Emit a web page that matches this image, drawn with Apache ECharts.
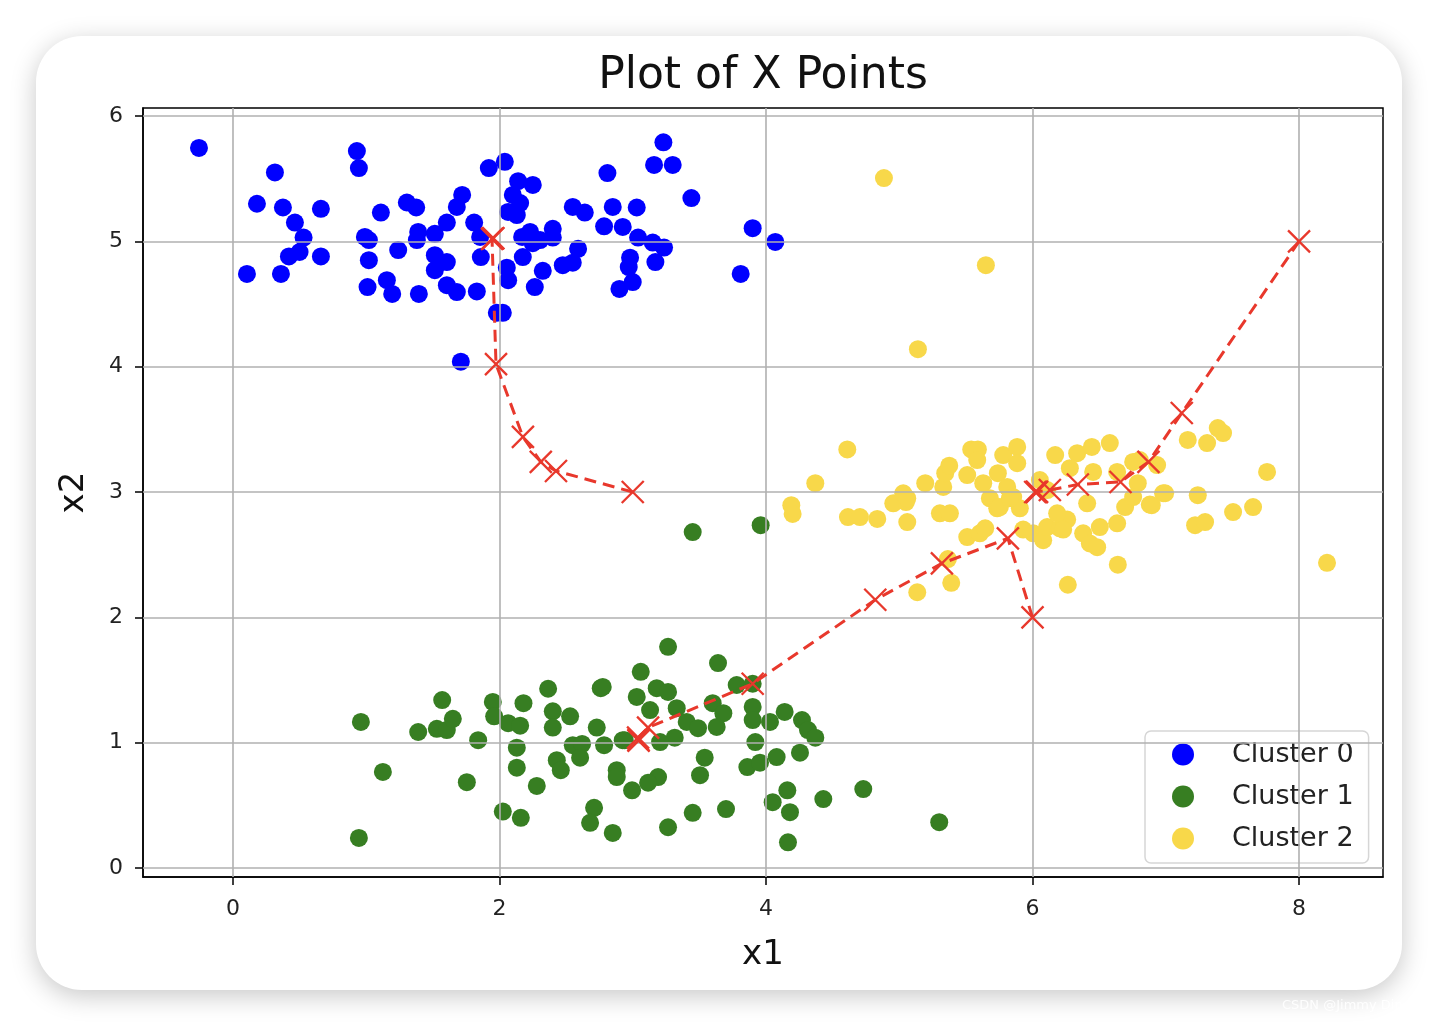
<!DOCTYPE html>
<html><head><meta charset="utf-8">
<script src="https://cdn.jsdelivr.net/npm/echarts@6/dist/echarts.min.js"></script>
<style>
html,body{margin:0;padding:0;background:#fff;width:1438px;height:1026px;overflow:hidden;}
#card{position:absolute;left:36px;top:36px;width:1366px;height:954px;background:#fff;border-radius:46px;box-shadow:0 6px 26px rgba(0,0,0,0.22);}
#chart{position:absolute;left:0;top:0;width:1438px;height:1026px;}
</style></head><body>
<div id="card"></div><div id="chart"></div>
<script>
// ---- data ----
const clusterNames = ['Cluster 0', 'Cluster 1', 'Cluster 2'];
const xTicks = [0, 2, 4, 6, 8];
const yTicks = [0, 1, 2, 3, 4, 5, 6];

const cluster0 = [
 [-0.255,5.745],[0.105,4.74],[0.18,5.30],[0.315,5.55],[0.36,4.74],[0.375,5.27],[0.465,5.15],[0.53,5.03],[0.50,4.915],[0.42,4.88],
 [0.66,5.26],[0.66,4.88],[0.93,5.72],[0.945,5.585],[1.11,5.23],[1.305,5.31],[1.375,5.27],[0.99,5.035],[1.02,5.01],[1.02,4.85],
 [1.01,4.635],[1.155,4.69],[1.195,4.58],[1.24,4.93],[1.395,4.58],[1.39,5.075],[1.38,5.01],[1.515,5.06],[1.605,5.15],[1.68,5.275],
 [1.72,5.37],[1.515,4.89],[1.605,4.835],[1.515,4.77],[1.605,4.65],[1.68,4.595],[1.83,4.60],[1.81,5.15],[1.855,5.035],[1.86,4.875],
 [1.71,4.04],[1.92,5.585],[2.04,5.635],[2.14,5.48],[2.25,5.45],[2.10,5.37],[2.155,5.305],[2.065,5.235],[2.13,5.21],[2.055,4.79],
 [2.065,4.69],[1.98,4.43],[2.025,4.43],[2.17,5.035],[2.23,5.075],[2.25,4.985],[2.175,4.875],[2.305,5.01],[2.40,5.10],[2.40,5.03],
 [2.325,4.765],[2.265,4.635],[2.475,4.81],[2.55,4.83],[2.59,4.94],[2.55,5.275],[2.64,5.23],[2.81,5.545],[2.85,5.275],[2.785,5.12],
 [2.925,5.115],[3.03,5.27],[3.04,5.03],[3.15,4.99],[3.235,4.95],[2.98,4.87],[2.97,4.795],[3.00,4.675],[2.90,4.62],[3.17,4.835],
 [3.23,5.79],[3.16,5.61],[3.30,5.61],[3.44,5.345],[3.90,5.105],[4.07,4.995],[3.81,4.74]
];

const cluster1 = [
 [0.96,1.165],[1.125,0.766],[0.945,0.24],[1.57,1.34],[1.39,1.085],[1.53,1.11],[1.605,1.10],[1.65,1.19],[1.84,1.02],[1.755,0.685],
 [1.95,1.325],[1.96,1.21],[2.065,1.155],[2.155,1.135],[2.18,1.315],[2.13,0.96],[2.13,0.80],[2.28,0.655],[2.025,0.45],[2.16,0.40],
 [2.365,1.43],[2.40,1.25],[2.53,1.21],[2.40,1.12],[2.73,1.12],[2.785,0.98],[2.76,1.435],[2.55,0.98],[2.62,0.99],[2.605,0.88],
 [2.43,0.86],[2.46,0.78],[2.88,0.78],[2.88,0.725],[2.71,0.48],[2.68,0.36],[2.85,0.28],[2.94,1.02],[3.265,1.765],[3.06,1.565],
 [3.64,1.635],[3.78,1.46],[3.90,1.47],[2.775,1.445],[3.03,1.365],[3.18,1.435],[3.265,1.405],[3.13,1.26],[3.33,1.275],[3.60,1.315],
 [3.68,1.235],[3.405,1.165],[3.49,1.115],[3.63,1.125],[3.90,1.285],[3.90,1.18],[4.03,1.165],[4.14,1.245],[4.27,1.18],[4.315,1.10],
 [4.37,1.04],[3.92,1.005],[4.08,0.885],[4.255,0.92],[3.86,0.805],[3.955,0.84],[3.54,0.88],[3.505,0.74],[3.19,0.725],[3.115,0.68],
 [2.995,0.62],[3.315,1.04],[3.205,1.005],[2.925,1.02],[4.16,0.62],[4.05,0.525],[4.18,0.445],[4.43,0.55],[4.73,0.63],[5.30,0.365],
 [3.70,0.47],[3.45,0.44],[3.265,0.325],[4.165,0.205],[3.45,2.68],[3.96,2.735]
];

const cluster2 = [
 [4.885,5.505],[5.65,4.81],[5.14,4.14],[4.61,3.34],[4.37,3.07],[4.19,2.895],[4.20,2.825],[4.615,2.80],[4.705,2.80],[4.835,2.785],
 [4.955,2.91],[5.03,2.99],[5.05,2.92],[5.06,2.76],[5.195,3.07],[5.33,3.04],[5.345,3.15],[5.375,3.21],[5.51,3.135],[5.305,2.83],
 [5.38,2.83],[5.54,3.34],[5.59,3.34],[5.585,3.255],[5.63,3.07],[5.68,2.95],[5.735,2.87],[5.78,3.295],[5.885,3.36],[5.885,3.23],
 [5.74,3.15],[5.81,3.04],[5.855,2.96],[5.905,2.87],[6.17,3.295],[5.51,2.64],[5.605,2.67],[5.645,2.71],[5.365,2.465],[5.39,2.275],
 [5.135,2.20],[6.005,2.67],[6.08,2.615],[6.11,2.72],[6.335,3.31],[6.445,3.36],[6.58,3.39],[6.28,3.19],[6.455,3.16],[6.635,3.16],
 [6.755,3.24],[6.935,3.215],[6.79,3.07],[6.98,2.99],[6.695,2.88],[6.895,2.895],[6.41,2.91],[7.165,3.415],[7.31,3.39],[7.39,3.51],
 [7.43,3.47],[7.76,3.16],[7.24,2.975],[7.505,2.84],[7.655,2.88],[7.22,2.735],[7.295,2.76],[6.635,2.75],[6.505,2.72],[6.38,2.67],
 [6.43,2.59],[6.485,2.56],[6.205,2.71],[6.26,2.78],[6.64,2.42],[6.265,2.26],[8.21,2.435],[5.755,2.88],[5.83,2.95],[5.93,2.70],
 [6.185,2.83],[6.23,2.70],[6.055,3.095],[6.11,3.015],[6.805,3.255],[6.755,2.96],[6.88,2.90],[6.995,2.99],[5.06,2.95]
];

// centroid histories (one per cluster)
const path0 = [[3.0,3.0],[2.424,3.168],[2.31,3.24],[2.176,3.44],[1.974,4.02],[1.944,5.02],[1.952,5.025],[1.954,5.025]];
const path1 = [[6.0,2.0],[5.815,2.63],[5.32,2.43],[4.82,2.14],[3.90,1.47],[3.115,1.12],[3.04,1.04],[3.043,1.02],[3.044,1.016]];
const path2 = [[8.0,5.0],[7.12,3.63],[6.87,3.24],[6.66,3.08],[6.34,3.06],[6.13,3.016],[6.02,3.0],[6.03,3.0],[6.034,3.001]];

// ---- chart ----
const FONT = '"DejaVu Sans", "Noto Sans", sans-serif';
const colors = ['#0000ff', '#377e22', '#f8d84a'];
const RED = '#e8382c';
const clusters = [cluster0, cluster1, cluster2];
const paths = [path0, path1, path2];

const chart = echarts.init(document.getElementById('chart'), null, {renderer: 'canvas'});

const series = [];
// grid lines at the tick values
series.push({
  name: 'gridlines', type: 'line', data: [], z: 1, silent: true,
  markLine: {
    silent: true, symbol: ['none', 'none'], label: {show: false}, animation: false,
    lineStyle: {color: '#b0b0b0', width: 1.6, type: 'solid'},
    emphasis: {disabled: true},
    data: xTicks.map(v => ({xAxis: v})).concat(yTicks.map(v => ({yAxis: v})))
  }
});
clusters.forEach((d, i) => {
  series.push({
    name: clusterNames[i], type: 'scatter', data: d, symbol: 'circle', symbolSize: 18,
    itemStyle: {color: colors[i], opacity: 1}, z: 2, silent: true
  });
});
paths.forEach((p, i) => {
  series.push({
    name: 'centroids' + i, type: 'line', data: p, z: 5, silent: true,
    symbol: 'path://M0,0L20,20M20,0L0,20', symbolSize: 22, showSymbol: true,
    lineStyle: {color: RED, width: 3, type: [12, 7]},
    itemStyle: {color: 'rgba(0,0,0,0)', borderColor: RED, borderWidth: 2.3}
  });
});

const axisCommon = {
  type: 'value',
  axisLine: {show: true, onZero: false, lineStyle: {color: '#000', width: 1.5}},
  splitLine: {show: false},
  nameTextStyle: {color: '#111', fontSize: 34, fontFamily: FONT}
};

chart.setOption({
  animation: false,
  backgroundColor: 'transparent',
  grid: {left: 143, right: 55, top: 108, bottom: 149, show: true, borderColor: '#000', borderWidth: 1.5, backgroundColor: 'transparent'},
  xAxis: Object.assign({}, axisCommon, {
    min: -0.675, max: 8.63,
    name: 'x1', nameLocation: 'middle', nameGap: 61,
    axisTick: {show: true, inside: false, length: 8, customValues: xTicks, lineStyle: {color: '#000', width: 1.5}},
    axisLabel: {color: '#222', fontSize: 22, fontFamily: FONT, margin: 21, customValues: xTicks}
  }),
  yAxis: Object.assign({}, axisCommon, {
    min: -0.072, max: 6.064,
    name: 'x2', nameLocation: 'middle', nameGap: 52, nameRotate: 90,
    axisTick: {show: true, inside: false, length: 8, customValues: yTicks, lineStyle: {color: '#000', width: 1.5}},
    axisLabel: {color: '#222', fontSize: 22, fontFamily: FONT, margin: 20, customValues: yTicks}
  }),
  legend: {
    data: clusterNames.map(n => ({name: n, icon: 'circle'})),
    orient: 'vertical', left: 1145, top: 731,
    padding: [10, 15, 11, 27], itemGap: 15, itemWidth: 22, itemHeight: 22,
    backgroundColor: 'rgba(255,255,255,0.85)', borderColor: '#d6d6d6', borderWidth: 1.5, borderRadius: 6,
    formatter: name => '{s| }' + name,
    textStyle: {fontSize: 27, fontFamily: FONT, color: '#222', rich: {s: {width: 33}}},
    selectedMode: false
  },
  graphic: [
    {type: 'text', x: 763, y: 77, silent: true,
     style: {text: 'Plot of X Points', font: '44px ' + FONT, fill: '#111', textAlign: 'center', textVerticalAlign: 'middle'}},
    {type: 'text', x: 1282, y: 1006, silent: true,
     style: {text: 'CSDN @Jimmy Ding', font: '13px ' + FONT, fill: 'rgba(255,255,255,0.9)', textAlign: 'left', textVerticalAlign: 'middle'}}
  ],
  series: series
});
</script></body></html>
